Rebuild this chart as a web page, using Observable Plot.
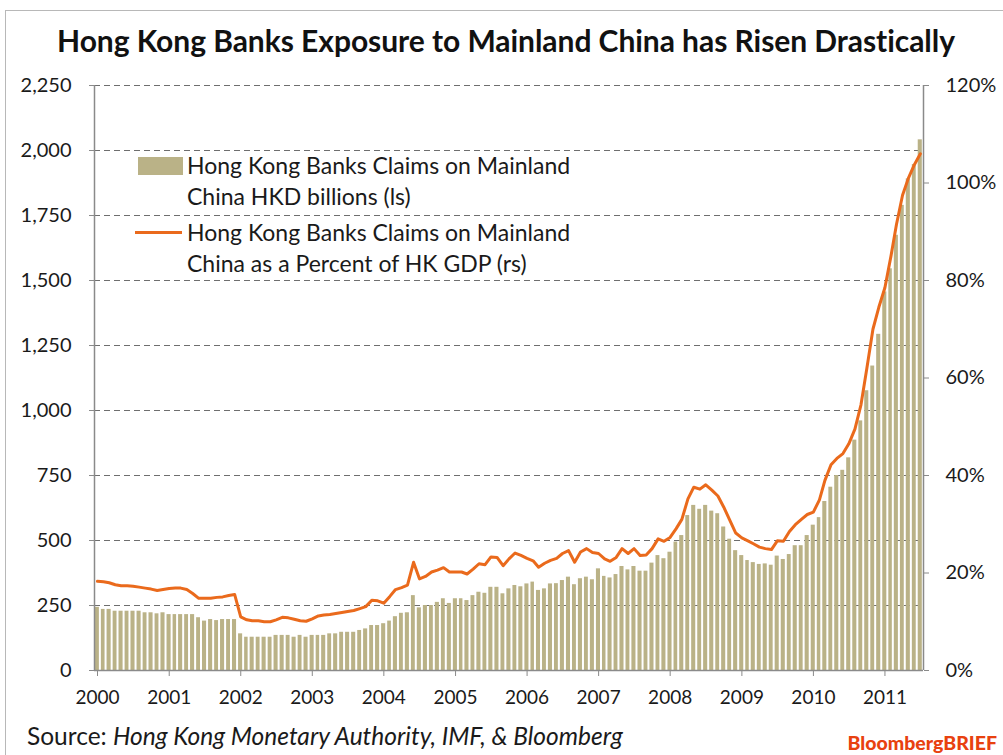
<!DOCTYPE html>
<html><head><meta charset="utf-8">
<script src="https://cdn.jsdelivr.net/npm/d3@7"></script>
<script src="https://cdn.jsdelivr.net/npm/@observablehq/plot@0.6"></script>
<style>
body{margin:0;background:#fff;font-family:Lato,"Open Sans",sans-serif;}
#wrap{position:relative;width:1003px;height:755px;overflow:hidden;background:#fff;}
#frame{position:absolute;left:5px;top:10px;width:1100px;height:900px;border-left:1px solid #b8b8b8;border-top:1px solid #b8b8b8;}
#title{position:absolute;left:0;width:1012px;top:22px;line-height:36px;text-align:center;font-weight:700;font-size:30px;color:#111;white-space:nowrap;letter-spacing:-0.05px;}
#chart{position:absolute;left:0;top:0;}
.leg{position:absolute;left:187px;font-size:23px;color:#1a1a1a;line-height:31px;white-space:nowrap;}
.sw{position:absolute;}
#source{position:absolute;left:27px;top:722px;font-size:24.5px;line-height:28px;color:#1a1a1a;white-space:nowrap;}
#brand{position:absolute;right:6px;top:731px;font-size:19.5px;line-height:24px;font-weight:900;color:#e8410f;white-space:nowrap;}
</style>
</head><body>
<div id="wrap">
  <div id="frame"></div>
  <div id="chart"></div>
  <div id="title">Hong Kong Banks Exposure to Mainland China has Risen Drastically</div>
  <div id="legend"></div>
  <div id="source">Source: <i>Hong Kong Monetary Authority, IMF, &amp; Bloomberg</i></div>
  <div id="brand">BloombergBRIEF</div>
</div>
<script>
// Monthly series, Jan 2000 .. Jul 2011
const firstMonth = [2000, 0];
const claimsHKDbn = [
  243, 235, 235, 228, 228, 228, 228, 228, 222, 222, 218, 222,
  215, 215, 215, 215, 215, 203, 190, 196, 192, 196, 196, 196,
  141, 128, 128, 128, 128, 128, 135, 135, 135, 128, 135, 128,
  135, 135, 135, 141, 141, 147, 147, 147, 154, 160, 173, 173,
  180, 190, 207, 220, 222, 288, 241, 250, 250, 262, 276, 258,
  276, 276, 269, 288, 301, 297, 320, 320, 295, 314, 327, 322,
  333, 340, 308, 314, 333, 334, 346, 359, 330, 353, 359, 349,
  391, 362, 356, 369, 400, 387, 400, 382, 382, 413, 442, 430,
  455, 494, 519, 596, 635, 620, 635, 613, 603, 552, 505, 461,
  442, 423, 415, 408, 410, 405, 440, 427, 446, 480, 480, 519,
  559, 588, 650, 705, 750, 770, 818, 886, 960, 1076, 1171, 1293,
  1456, 1545, 1674, 1789, 1891, 1946, 2041
];
const pctOfGDP = [
  18.3, 18.2, 18.0, 17.6, 17.4, 17.4, 17.3, 17.1, 16.9, 16.7, 16.4, 16.6,
  16.8, 16.9, 16.9, 16.6, 15.8, 14.8, 14.8, 14.8, 15.0, 15.1, 15.4, 15.6,
  11.0, 10.4, 10.2, 10.2, 10.0, 10.0, 10.4, 10.9, 10.8, 10.5, 10.2, 10.1,
  10.6, 11.2, 11.4, 11.5, 11.7, 11.9, 12.1, 12.3, 12.7, 13.1, 14.4, 14.3,
  13.8, 15.2, 16.6, 17.0, 17.5, 22.2, 18.8, 19.3, 20.2, 20.6, 21.1, 20.2,
  20.2, 20.2, 19.8, 20.8, 21.9, 21.7, 23.3, 23.2, 21.5, 22.9, 24.1, 23.6,
  23.0, 22.5, 21.2, 22.0, 22.6, 23.0, 24.0, 24.6, 22.2, 24.3, 25.0, 24.2,
  24.0, 22.9, 22.4, 23.2, 25.0, 24.0, 25.0, 23.6, 23.7, 25.0, 27.0, 26.5,
  27.3, 29.1, 31.0, 35.2, 37.6, 37.2, 38.1, 37.0, 35.8, 33.5, 30.8, 28.2,
  27.2, 26.6, 26.0, 25.3, 25.0, 24.8, 26.6, 26.5, 28.5, 29.9, 31.0, 32.0,
  32.5, 35.0, 39.0, 42.2, 43.5, 44.5, 46.5, 49.5, 54.5, 62.0, 70.0, 74.5,
  78.5, 85.0, 91.5, 97.5, 101.0, 103.8, 106.0
];
const years = [2000, 2001, 2002, 2003, 2004, 2005, 2006, 2007, 2008, 2009, 2010, 2011];
const leftTicks = [0, 250, 500, 750, 1000, 1250, 1500, 1750, 2000, 2250];
const rightTicks = [0, 20, 40, 60, 80, 100, 120];
const legendItems = [
  {kind: "bar", lines: ["Hong Kong Banks Claims on Mainland", "China HKD billions (ls)"]},
  {kind: "line", lines: ["Hong Kong Banks Claims on Mainland", "China as a Percent of HK GDP (rs)"]}
];

const barColor = "#bab287";
const lineColor = "#ea6a1c";
const axisColor = "#8a8a8a";

const start = new Date(Date.UTC(firstMonth[0], firstMonth[1], 1));
const data = claimsHKDbn.map((v, i) => {
  const date = d3.utcMonth.offset(start, i);
  return {date, mid: d3.utcHour.offset(date, 15 * 24), claims: v, pct: pctOfGDP[i]};
});
const end = d3.utcMonth.offset(start, data.length);
const k = 2250 / 120; // right axis (%) expressed in left axis units

const chart = Plot.plot({
  width: 1003,
  height: 720,
  marginTop: 85,
  marginBottom: 50,
  marginLeft: 94,
  marginRight: 80,
  style: {fontFamily: "Lato, 'Open Sans', sans-serif", fontSize: "20px", color: "#1a1a1a", background: "transparent"},
  x: {type: "utc", domain: [start, end]},
  y: {domain: [0, 2250]},
  marks: [
    Plot.gridY(leftTicks.slice(1), {stroke: "#6e6e6e", strokeOpacity: 1, strokeDasharray: "6,4", strokeWidth: 1}),
    Plot.rectY(data, {x: "date", interval: "month", y: "claims", fill: barColor, insetLeft: 0.8, insetRight: 1.2}),
    Plot.line(data, {x: "mid", y: d => d.pct * k, stroke: lineColor, strokeWidth: 3, strokeLinejoin: "round"}),
    Plot.ruleY([0], {stroke: axisColor, strokeWidth: 1.5}),
    Plot.ruleX([start, end], {stroke: axisColor, strokeWidth: 1.5}),
    Plot.axisY({ticks: leftTicks, tickFormat: d3.format(","), tickSize: 5, tickPadding: 18, stroke: axisColor, fill: "#1a1a1a", label: null, fontSize: 20}),
    Plot.axisY({anchor: "right", ticks: rightTicks.map(v => v * k), tickFormat: v => Math.round(v / k) + "%", tickSize: 5, tickPadding: 17, stroke: axisColor, fill: "#1a1a1a", label: null, fontSize: 20}),
    Plot.axisX({ticks: years.map(y => new Date(Date.UTC(y, 0, 1))), tickFormat: d3.utcFormat("%Y"), tickSize: 6, tickPadding: 14, dx: 3, stroke: axisColor, fill: "#1a1a1a", label: null, fontSize: 19})
  ]
});
document.getElementById("chart").appendChild(chart);

// legend
const leg = document.getElementById("legend");
const tops = [150, 217];
legendItems.forEach((item, i) => {
  const t = document.createElement("div");
  t.className = "leg";
  t.style.top = tops[i] + "px";
  t.innerHTML = item.lines.join("<br>");
  leg.appendChild(t);
  const s = document.createElement("div");
  s.className = "sw";
  if (item.kind === "bar") {
    Object.assign(s.style, {left: "138px", top: (tops[i] + 7) + "px", width: "45px", height: "18px", background: barColor});
  } else {
    Object.assign(s.style, {left: "135px", top: (tops[i] + 14) + "px", width: "47px", height: "3px", background: lineColor});
  }
  leg.appendChild(s);
});
</script>
</body></html>
